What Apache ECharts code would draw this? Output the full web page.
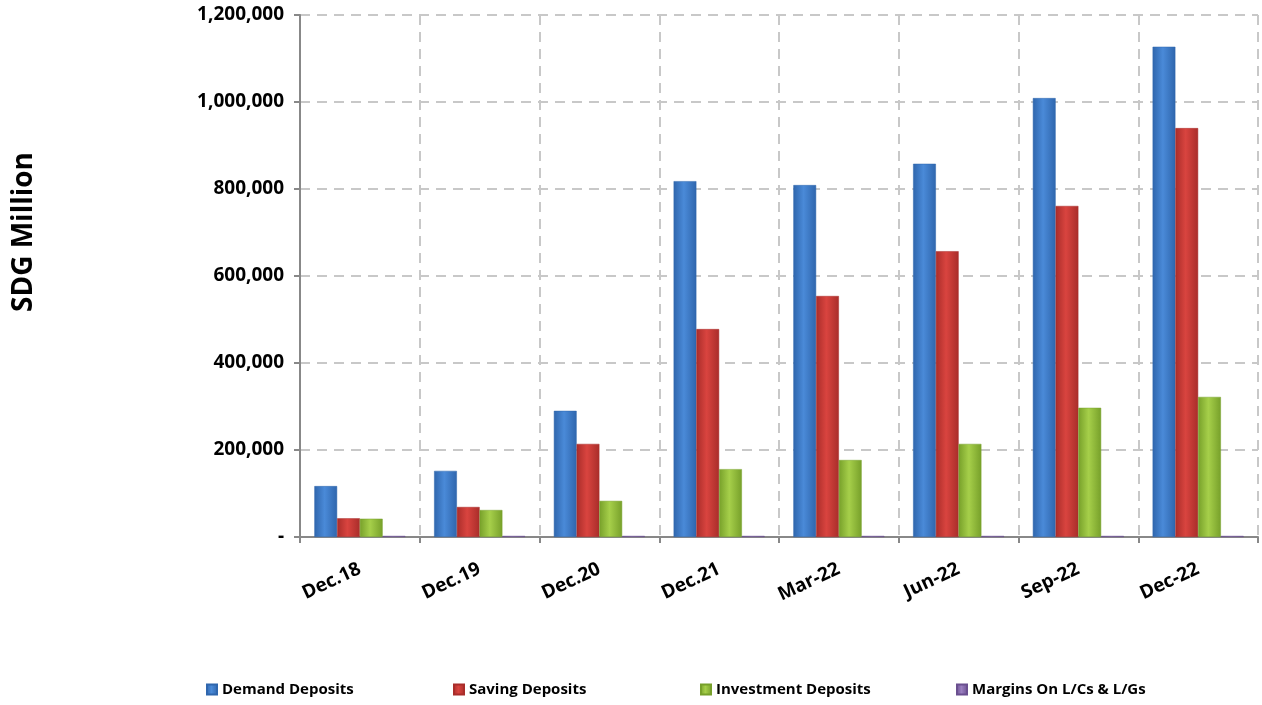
<!DOCTYPE html>
<html><head><meta charset="utf-8">
<script src="https://cdn.jsdelivr.net/npm/echarts@6/dist/echarts.min.js"></script>
<style>html,body{margin:0;padding:0;background:#fff}#c{width:1262px;height:705px}</style>
</head><body><div id="c"></div>
<script>
var categories = ['Dec.18','Dec.19','Dec.20','Dec.21','Mar-22','Jun-22','Sep-22','Dec-22'];
var demandDeposits = [117000,152000,290000,818000,809000,858000,1009000,1127000];
var savingDeposits = [43000,69000,214000,478000,554000,657000,761000,940000];
var investmentDeposits = [42000,62000,83000,156000,177000,214000,297000,322000];
var marginsLCs = [2500,2500,2500,2500,2500,2500,2500,2500];
var seriesNames = ['Demand Deposits','Saving Deposits','Investment Deposits','Margins On L/Cs & L/Gs'];

function grad(dark, light){
  return new echarts.graphic.LinearGradient(0,0,1,0,[
    {offset:0,color:dark},{offset:0.45,color:light},{offset:1,color:dark}
  ]);
}
var colors = [
  ['#2f66ad','#4a8ad8'],
  ['#a92d2a','#d9443f'],
  ['#77a02a','#a6cf4a'],
  ['#6a4f8f','#9a7fc0']
];
var font = '"Open Sans", "Noto Sans", sans-serif';
var data = [demandDeposits, savingDeposits, investmentDeposits, marginsLCs];
var legendLefts = [201, 448, 695, 951];
var chart = echarts.init(document.getElementById('c'));
chart.setOption({
  animation:false,
  grid:{left:300,right:4,top:15,bottom:168},
  graphic:[{type:'text',left:10,top:152,rotation:Math.PI/2,
    style:{text:'SDG Million',font:'bold 28px '+font,fill:'#000'}}],
  legend:seriesNames.map(function(n,i){
    return {bottom:3,left:legendLefts[i],itemWidth:10,itemHeight:10,icon:'rect',itemGap:4,
      textStyle:{fontFamily:font,fontWeight:'bold',fontSize:15,color:'#000'},data:[n]};
  }),
  xAxis:{type:'category',data:categories,
    axisLine:{lineStyle:{color:'#888',width:2}},
    axisTick:{show:true,alignWithLabel:false,length:6,lineStyle:{color:'#888',width:2}},
    splitLine:{show:true,lineStyle:{color:'#c8c8c8',type:[10,7],width:2}},
    axisLabel:{rotate:25,margin:31,fontFamily:font,fontWeight:'bold',fontSize:19,color:'#000',interval:0}},
  yAxis:{type:'value',min:0,max:1200000,interval:200000,
    axisLine:{show:true,lineStyle:{color:'#888',width:2}},
    axisTick:{show:true,length:6,lineStyle:{color:'#888',width:2}},
    splitLine:{lineStyle:{color:'#c8c8c8',type:[10,7],width:2}},
    axisLabel:{margin:16,fontFamily:font,fontWeight:'bold',fontSize:19,color:'#000',
      formatter:function(v){return v===0?'-':v.toLocaleString('en-US');}}},
  series:data.map(function(d,i){
    return {name:seriesNames[i],type:'bar',data:d,barGap:'0%',barCategoryGap:'24%',
      itemStyle:{color:grad(colors[i][0],colors[i][1]),borderColor:colors[i][0],borderWidth:0.5}};
  })
});
</script></body></html>
